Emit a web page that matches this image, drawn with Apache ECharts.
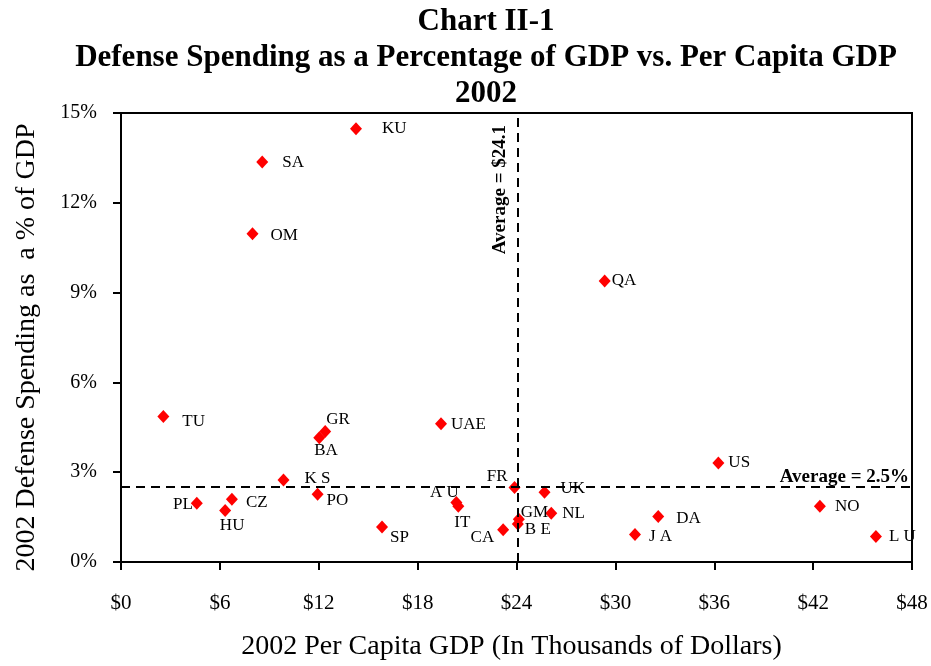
<!DOCTYPE html>
<html>
<head>
<meta charset="utf-8">
<script src="https://cdn.jsdelivr.net/npm/echarts@6/dist/echarts.min.js"></script>
<style>
html,body{margin:0;padding:0;background:#fff;}
#chart{width:931px;height:666px;}
</style>
</head>
<body>
<div id="chart"></div>
<script>
// Country codes
const countries = ['KU','SA','OM','QA','TU','GR','BA','UAE','US','KS','FR','UK','PO','AU','IT','CZ','PL','HU','SP','GM','BE','CA','NL','JA','DA','NO','LU'];
// 2002 per capita GDP (thousands of dollars)
const gdpPerCapita = [14.26, 8.57, 7.98, 29.35, 2.57, 12.39, 12.03, 19.42, 36.25, 9.86, 23.88, 25.7, 11.93, 20.35, 20.47, 6.73, 4.60, 6.32, 15.84, 24.14, 24.08, 23.19, 26.11, 31.19, 32.6, 42.41, 45.81];
// 2002 defense spending as % of GDP
const defensePct = [14.47, 13.36, 10.97, 9.39, 4.86, 4.36, 4.15, 4.62, 3.31, 2.74, 2.49, 2.33, 2.26, 1.99, 1.86, 2.10, 1.96, 1.72, 1.17, 1.43, 1.27, 1.08, 1.63, 0.92, 1.52, 1.86, 0.85];
// Displayed label text
const labelText = {KS:'K S', AU:'A U', LU:'L U', JA:'J A', BE:'B E', UAE:'UAE'};
// Averages
const avgGdp = 24.1;
const avgDefense = 2.5;
// Tick settings
const xTicks = {min:0, max:48, interval:6};
const yTicks = {min:0, max:15, interval:3};

// label placement: [align, dx, dy]
const labelPlace = {
  KU:['left',26,0], SA:['left',20,0], OM:['left',18,2], QA:['left',7,0],
  TU:['left',19,5], GR:['left',1,-12], BA:['left',-5,13], UAE:['left',10,1],
  US:['left',10,0], KS:['left',21,-1], FR:['right',-7,-11], UK:['left',16,-4],
  PO:['left',9,6], AU:['center',-12,-10], IT:['center',4,16], CZ:['left',14,3],
  PL:['right',-4,1], HU:['center',7,15], SP:['left',8,11], GM:['left',2,-7],
  BE:['left',7,6], CA:['right',-9,8], NL:['left',11,0], JA:['left',14,2],
  DA:['left',18,2], NO:['left',15,0], LU:['left',13,0]
};

const serif = 'Liberation Serif';
const data = countries.map((c, i) => {
  const p = labelPlace[c];
  return {
    name: c,
    value: [gdpPerCapita[i], defensePct[i]],
    label: {
      show: true, position: 'inside', align: p[0], verticalAlign: 'middle',
      offset: [p[1], p[2]], formatter: labelText[c] || c
    }
  };
});

const chart = echarts.init(document.getElementById('chart'), null, {renderer:'canvas'});
chart.setOption({
  backgroundColor: '#fff',
  animation: false,
  title: {
    text: 'Chart II-1\nDefense Spending as a Percentage of GDP vs. Per Capita GDP\n2002',
    left: 486, top: 4, padding: 0, textAlign: 'center',
    textStyle: {fontFamily: serif, fontWeight: 'bold', fontSize: 31, lineHeight: 36, color: '#000'}
  },
  grid: {left: 121, right: 19, top: 113, bottom: 99, show: true, borderColor: '#000', borderWidth: 2},
  xAxis: {
    type: 'value', min: xTicks.min, max: xTicks.max, interval: xTicks.interval,
    name: '2002 Per Capita GDP (In Thousands of Dollars)', nameLocation: 'middle', nameGap: 71,
    nameTextStyle: {fontFamily: serif, fontSize: 28, color: '#000', padding: [0, 10, 0, 0]},
    axisLine: {lineStyle: {color: '#000', width: 2}},
    axisTick: {length: 8, lineStyle: {color: '#000', width: 2}},
    axisLabel: {margin: 31, fontFamily: serif, fontSize: 21, color: '#000', formatter: v => '$' + v},
    splitLine: {show: false}
  },
  yAxis: {
    type: 'value', min: yTicks.min, max: yTicks.max, interval: yTicks.interval,
    name: '2002 Defense Spending as  a % of GDP', nameLocation: 'middle', nameGap: 80, nameRotate: 90,
    nameTextStyle: {fontFamily: serif, fontSize: 28, color: '#000', padding: [0, 20, 0, 0]},
    axisLine: {lineStyle: {color: '#000', width: 2}},
    axisTick: {length: 8, lineStyle: {color: '#000', width: 2}},
    axisLabel: {margin: 24, fontFamily: serif, fontSize: 20, color: '#000', padding: [9, 0, 0, 0], formatter: v => v + '%'},
    splitLine: {show: false}
  },
  series: [{
    type: 'scatter',
    data: data,
    symbol: 'diamond',
    symbolSize: [12, 13],
    itemStyle: {color: '#ff0000', opacity: 1},
    label: {fontFamily: serif, fontSize: 17, color: '#000'},
    markLine: {
      silent: true, symbol: 'none', animation: false,
      lineStyle: {color: '#000', width: 2, type: [9, 6]},
      data: [
        {xAxis: avgGdp, label: {show: true, position: 'insideEndTop', distance: [12, 9], formatter: 'Average = $' + avgGdp,
          fontFamily: serif, fontWeight: 'bold', fontSize: 19, color: '#000'}},
        {yAxis: avgDefense, label: {show: true, position: 'insideEndTop', distance: [3, 1], formatter: 'Average = ' + avgDefense + '%',
          fontFamily: serif, fontWeight: 'bold', fontSize: 19, color: '#000'}}
      ]
    }
  }]
});
</script>
</body>
</html>
